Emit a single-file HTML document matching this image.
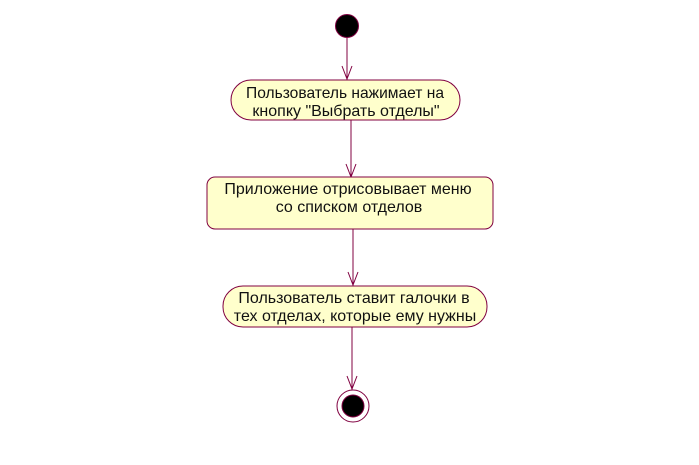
<!DOCTYPE html>
<html><head><meta charset="utf-8"><style>body{margin:0;background:#fff}</style></head><body>
<svg width="699" height="465" xmlns="http://www.w3.org/2000/svg" style="display:block">
<g stroke="#800040" stroke-width="1" fill="none">
<line x1="347" y1="38" x2="347" y2="80"/>
<polyline points="342,66 347,79 352,66"/>
<line x1="351" y1="120" x2="351" y2="177"/>
<polyline points="346,164 351,177 356,164"/>
<line x1="353" y1="229" x2="353" y2="286"/>
<polyline points="348,272 353,285 358,272"/>
<line x1="352" y1="327" x2="352" y2="390"/>
<polyline points="347,376 352,389 357,376"/>
</g>
<circle cx="347" cy="26" r="11.5" fill="#000" stroke="#800040"/>
<circle cx="353" cy="406" r="16" fill="#fff" stroke="#800040"/>
<circle cx="353" cy="406" r="11" fill="#000" stroke="#800040"/>
<rect x="231" y="80" width="229" height="40" rx="20" ry="20" fill="#ffffcc" stroke="#800040"/>
<rect x="207" y="177" width="286" height="52" rx="8" ry="8" fill="#ffffcc" stroke="#800040"/>
<rect x="223" y="286" width="264" height="41" rx="20" ry="20" fill="#ffffcc" stroke="#800040"/>
<g font-family="Liberation Sans, sans-serif" font-size="16" fill="#111" text-anchor="middle">
<text x="345" y="98" textLength="198" lengthAdjust="spacingAndGlyphs">Пользователь нажимает на</text>
<text x="346" y="116">кнопку "Выбрать отделы"</text>
<text x="348" y="194">Приложение отрисовывает меню</text>
<text x="349" y="212">со списком отделов</text>
<text x="354" y="303">Пользователь ставит галочки в</text>
<text x="355" y="321">тех отделах, которые ему нужны</text>
</g>
</svg>
</body></html>
